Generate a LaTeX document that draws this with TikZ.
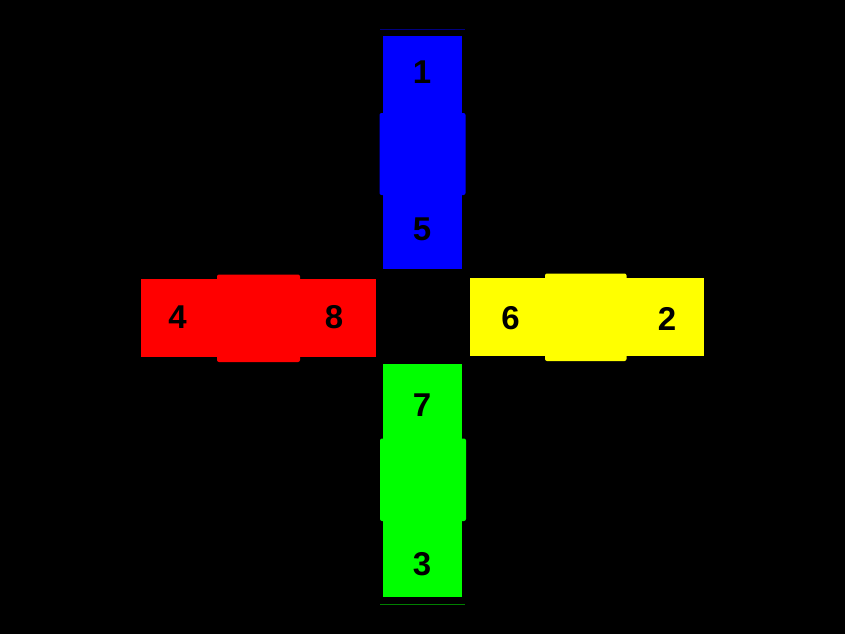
\documentclass[tikz,border=0pt]{standalone}
\usepackage{fontspec}
\setmainfont{Liberation Sans}
\usepackage{tikz}
\usetikzlibrary{positioning}
\definecolor{armblue}{HTML}{0000FF}
\definecolor{armred}{HTML}{FF0000}
\definecolor{armyellow}{HTML}{FFFF00}
\definecolor{armgreen}{HTML}{00FF00}
\definecolor{navyline}{HTML}{000080}
\definecolor{greenline}{HTML}{008000}
\tikzset{
  hub/.style={rounded corners=2pt},
  edge/.style={line width=1pt},
  num/.style={font=\fontsize{33}{40}\selectfont\bfseries,text=black,inner sep=0pt}
}

\begin{document}
\begin{tikzpicture}[x=1pt,y=-1pt]
  \fill[black] (0,0) rectangle (845,634);

  % top arm
  \draw[edge,navyline] (380,29.5) -- (465,29.5);
  \fill[armblue] (383,36) rectangle (462,269);
  \fill[armblue,hub] (379.5,113) rectangle (465.5,195);
  \node[num] (n1) at (422,72) {1};
  \node[num] (n5) at (422,229) {5};

  % left arm
  \fill[armred] (141,278.5) rectangle (376,357);
  \fill[armred,hub] (217,274.5) rectangle (300,362);
  \node[num] (n4) at (177.5,317.5) {4};
  \node[num] (n8) at (334,317) {8};

  % right arm
  \fill[armyellow] (469.5,277.5) rectangle (704,355.5);
  \fill[armyellow,hub] (545,273.5) rectangle (626.5,361);
  \node[num] (n6) at (510.5,318.5) {6};
  \node[num] (n2) at (667,319) {2};

  % bottom arm
  \fill[armgreen] (383,363.5) rectangle (462,597);
  \fill[armgreen,hub] (380,438.5) rectangle (466,521);
  \draw[edge,greenline] (380,604) -- (465,604);
  \node[num] (n7) at (422,405.5) {7};
  \node[num] (n3) at (422,564) {3};
\end{tikzpicture}
\end{document}
